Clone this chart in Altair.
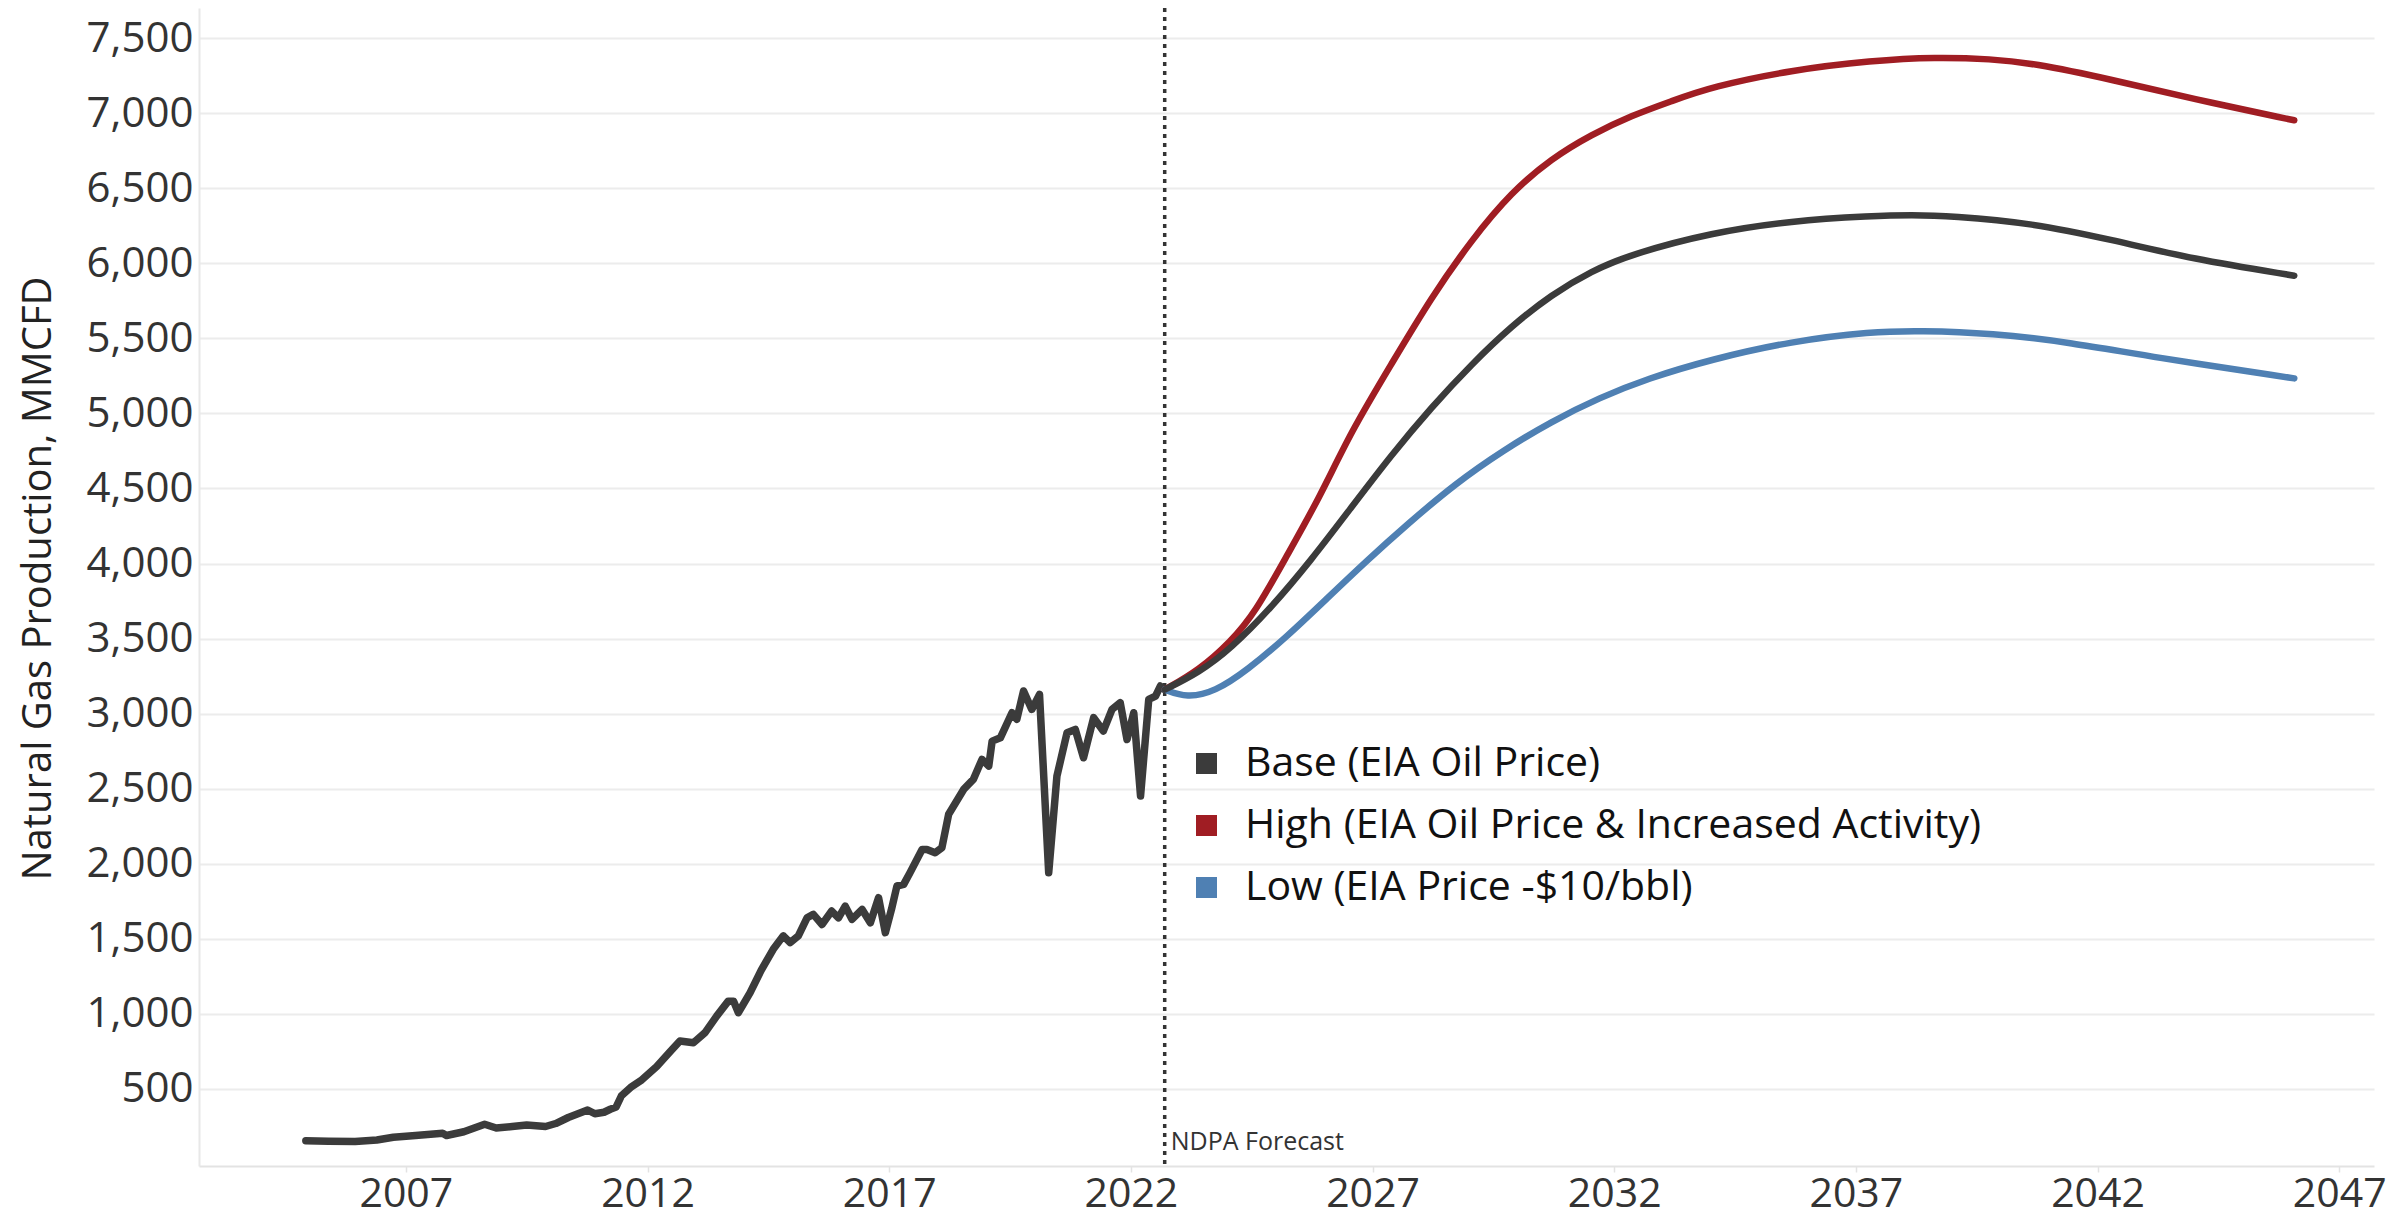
import altair as alt
import pandas as pd

# ---------------- data ----------------
hist_year = [2004.93, 2005.4, 2005.95, 2006.4, 2006.74, 2007.2, 2007.76, 2007.84, 2008.2, 2008.63,
             2008.87, 2009.2, 2009.5, 2009.89, 2010.1, 2010.36, 2010.6, 2010.76, 2010.91, 2011.1,
             2011.23, 2011.35, 2011.46, 2011.65, 2011.86, 2012.19, 2012.47, 2012.67, 2012.95, 2013.19,
             2013.43, 2013.67, 2013.78, 2013.88, 2014.12, 2014.35, 2014.60, 2014.81, 2014.95, 2015.12,
             2015.30, 2015.43, 2015.61, 2015.81, 2015.95, 2016.09, 2016.23, 2016.44, 2016.61, 2016.78,
             2016.92, 2017.05, 2017.16, 2017.30, 2017.43, 2017.68, 2017.78, 2017.95, 2018.09, 2018.23,
             2018.54, 2018.74, 2018.92, 2019.06, 2019.13, 2019.30, 2019.54, 2019.64, 2019.78, 2019.95,
             2020.11, 2020.30, 2020.47, 2020.68, 2020.85, 2021.02, 2021.23, 2021.43, 2021.61, 2021.78,
             2021.92, 2022.06, 2022.20, 2022.37, 2022.51, 2022.61, 2022.70]
hist_value = [155, 152, 150, 160, 178, 190, 205, 190, 215, 265,
              240, 250, 260, 250, 270, 310, 340, 360, 335, 345,
              365, 380, 455, 510, 555, 650, 750, 820, 808, 875,
              985, 1085, 1085, 1008, 1140, 1290, 1430, 1520, 1475, 1520,
              1640, 1663, 1596, 1685, 1640, 1718, 1630, 1696, 1607, 1774,
              1541, 1700, 1852, 1863, 1940, 2095, 2095, 2073, 2107, 2330,
              2495, 2562, 2695, 2651, 2817, 2839, 3006, 2962, 3151, 3028,
              3128, 1940, 2584, 2873, 2895, 2706, 2973, 2884, 3028, 3073,
              2828, 3006, 2451, 3095, 3117, 3184, 3160]

base_year = [2022.70, 2023.41, 2024.07, 2024.90, 2025.73, 2026.56, 2027.39, 2028.22, 2029.05, 2029.88,
             2030.70, 2031.53, 2032.36, 2034.01, 2035.67, 2037.33, 2038.16, 2038.98, 2040.64, 2042.30,
             2043.95, 2046.07]
base_value = [3160, 3274, 3433, 3704, 4022, 4373, 4723, 5041, 5328, 5583,
              5790, 5949, 6061, 6204, 6283, 6315, 6322, 6315, 6268, 6156,
              6029, 5917]

high_year = [2022.70, 2023.41, 2024.07, 2024.57, 2025.23, 2025.90, 2026.56, 2027.39, 2028.22, 2029.05,
             2029.88, 2030.70, 2031.53, 2032.36, 2033.19, 2034.01, 2035.67, 2037.33, 2038.65, 2039.81,
             2040.64, 2042.30, 2043.95, 2046.07]
high_value = [3160, 3290, 3481, 3672, 4054, 4436, 4882, 5328, 5774, 6156,
              6475, 6697, 6857, 6984, 7080, 7175, 7287, 7350, 7373, 7360,
              7334, 7223, 7096, 6952]

low_year = [2022.70, 2023.16, 2023.74, 2024.41, 2025.23, 2026.06, 2026.89, 2027.72, 2028.71, 2029.71,
            2030.70, 2031.70, 2032.69, 2034.01, 2035.67, 2037.33, 2038.32, 2039.81, 2041.47, 2043.12,
            2046.07]
low_value = [3160, 3105, 3146, 3290, 3513, 3768, 4022, 4261, 4532, 4755,
             4946, 5105, 5232, 5360, 5481, 5545, 5551, 5535, 5471, 5376,
             5233]

series_names = ["Base (EIA Oil Price)",
                "High (EIA Oil Price & Increased Activity)",
                "Low (EIA Price -$10/bbl)"]
series_colors = ["#3b3b3b", "#a01d23", "#4f80b3"]

x_ticks = [2007, 2012, 2017, 2022, 2027, 2032, 2037, 2042, 2047]
y_ticks = [500, 1000, 1500, 2000, 2500, 3000, 3500, 4000, 4500, 5000, 5500, 6000, 6500, 7000, 7500]

forecast_start = [2022.70]
annotation_text = ["NDPA Forecast"]
annotation_value = [150]

# ---------------- tables ----------------
hist_df = pd.DataFrame({"year": hist_year, "value": hist_value})
fc_df = pd.concat([
    pd.DataFrame({"year": high_year, "value": high_value, "series": series_names[1], "order": 0}),
    pd.DataFrame({"year": low_year, "value": low_value, "series": series_names[2], "order": 1}),
    pd.DataFrame({"year": base_year, "value": base_value, "series": series_names[0], "order": 2}),
], ignore_index=True)
rule_df = pd.DataFrame({"year": forecast_start})
ann_df = pd.DataFrame({"year": forecast_start, "value": annotation_value, "label": annotation_text})

FONT = "Open Sans"
W, H = 2175, 1158

x_scale = alt.Scale(domain=[2002.72, 2047.72], nice=False, zero=False)
y_scale = alt.Scale(domain=[-13, 7700], nice=False, zero=False)

x_axis = alt.Axis(values=x_ticks, format="d", title=None, grid=False,
                  labelFontSize=41, labelColor="#333333", labelFont=FONT,
                  labelPadding=2, tickSize=6, tickColor="#e3e3e3", tickWidth=1.5,
                  domainColor="#e3e3e3", domainWidth=2, labelFlush=False)
y_axis = alt.Axis(values=y_ticks, format=",d", title="Natural Gas Production, MMCFD",
                  grid=True, gridColor="#ececec", gridWidth=2,
                  labelFontSize=42, labelColor="#333333", labelFont=FONT, labelPadding=6,
                  ticks=False, domainColor="#e8e8e8", domainWidth=2,
                  titleFont=FONT, titleFontSize=40, titleFontWeight="normal", titleColor="#222222",
                  titleX=-181, titleY=570, titleAngle=270, titleAlign="center",
                  titleBaseline="top")

hist = alt.Chart(hist_df).mark_line(color=series_colors[0], strokeWidth=7.5,
                                    strokeJoin="round", strokeCap="round").encode(
    x=alt.X("year:Q", scale=x_scale, axis=x_axis),
    y=alt.Y("value:Q", scale=y_scale, axis=y_axis),
)

fc = alt.Chart(fc_df).mark_line(strokeWidth=6.5, interpolate="basis", strokeCap="round").encode(
    x=alt.X("year:Q", scale=x_scale),
    y=alt.Y("value:Q", scale=y_scale),
    color=alt.Color("series:N",
                    scale=alt.Scale(domain=series_names, range=series_colors),
                    legend=alt.Legend(title=None, orient="none", legendX=987, legendY=735,
                                      symbolType="square", symbolSize=100, symbolStrokeWidth=11,
                                      labelFontSize=41, labelFont=FONT, labelColor="#111111",
                                      labelOffset=18, rowPadding=7, padding=0,
                                      labelLimit=1200)),
    detail="series:N",
    order="order:Q",
)

rule = alt.Chart(rule_df).mark_rule(color="#333333", strokeWidth=3.5, strokeDash=[4, 5]).encode(
    x=alt.X("year:Q", scale=x_scale)
)

ann = alt.Chart(ann_df).mark_text(align="left", baseline="middle", dx=6, fontSize=25,
                                  font=FONT, color="#333333").encode(
    x=alt.X("year:Q", scale=x_scale),
    y=alt.Y("value:Q", scale=y_scale),
    text="label:N",
)

chart = alt.layer(rule, hist, fc, ann).properties(
    width=W, height=H,
    autosize=alt.AutoSizeParams(type="none"),
    padding={"left": 191, "top": 0, "right": 12, "bottom": 51},
    background="white",
).configure_view(stroke=None)

chart.save("out.html", embed_options={"renderer": "svg", "actions": False})
